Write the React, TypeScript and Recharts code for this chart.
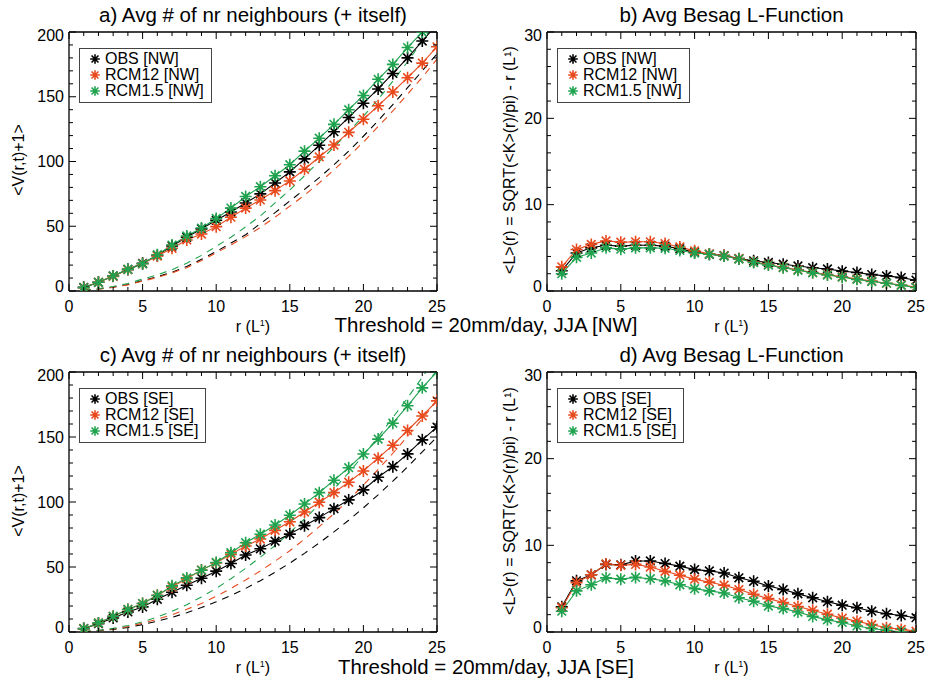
import React from 'react';
import { LineChart, Line, XAxis, YAxis } from 'recharts';

// r (in L') sample points
const rValues = [1, 2, 3, 4, 5, 6, 7, 8, 9, 10, 11, 12, 13, 14, 15, 16, 17, 18, 19, 20, 21, 22, 23, 24, 25];

// a) <V(r,t)+1>, NW
const obsNW = [2.8, 6.7, 11.6, 16.7, 21.4, 27.5, 34.7, 41.5, 48, 54.6, 61, 68, 75, 83.4, 92, 102, 112.5, 123, 134, 145, 156, 168, 180, 193, 206];
const rcm12NW = [2.5, 6.7, 11.3, 16.5, 21, 27, 33, 39.4, 44, 49.7, 57, 64, 70.3, 77.5, 85, 94, 103.5, 112.7, 122.5, 132.6, 143, 153.7, 164.7, 176, 188.6];
const rcm15NW = [2.5, 6.7, 11.6, 16.7, 21, 28, 35.5, 42.5, 48.6, 56, 64, 73, 80.5, 89, 97.5, 108, 118, 128.7, 140, 151, 163.5, 175, 188, 200, 212];
const obsNWDash = [0.5, 1.5, 3, 5, 8, 11, 14.5, 19, 24.5, 30.5, 37, 43.5, 52, 60.5, 69.5, 78.5, 87.5, 97.5, 108, 119.5, 131.5, 144, 157, 170, 183];
const rcm12NWDash = [0.5, 1.4, 2.8, 4.7, 7.6, 10.5, 14, 18, 23.5, 29.5, 35.5, 42, 49, 57, 65.5, 74, 83.5, 93.5, 104, 115, 127, 139, 152, 165, 179];
const rcm15NWDash = [0.6, 1.8, 3.5, 5.8, 9.2, 12.5, 16.5, 21.5, 27.5, 34.5, 41.5, 49.5, 58, 68, 78, 89, 100, 111, 123, 135, 148, 162, 177, 193, 210];

// c) <V(r,t)+1>, SE
const obsSE = [2.6, 6.4, 10.8, 15.4, 19.3, 25.2, 30.6, 36, 41.4, 46.8, 52.7, 59.2, 64, 69.9, 75.3, 81.8, 88, 94.9, 101.6, 109.3, 119, 127.2, 137, 147.8, 157.6];
const rcm12SE = [2.5, 7, 12.1, 17.3, 21.9, 28.3, 34.7, 40.9, 47.6, 53.2, 59.7, 66.1, 71.5, 78.2, 84.8, 92.3, 99.8, 107.2, 115.2, 123.9, 133.7, 143.7, 155, 166.2, 177.8];
const rcm15SE = [2.5, 7, 12.1, 17.3, 21.9, 28.1, 35.5, 41.6, 47.6, 53.5, 61, 68.7, 75.2, 82.3, 89.8, 98.5, 107.2, 116.7, 126.4, 136.9, 148.4, 160.6, 174, 187.8, 200.3];
const obsSEDash = [0.3, 1, 2, 3.5, 5.7, 8.3, 11.3, 14.8, 18.8, 23.2, 28, 33.5, 39.5, 46, 53, 60.5, 68.5, 77, 86, 95.5, 105.5, 116, 127, 138.5, 150];
const rcm12SEDash = [0.4, 1.2, 2.4, 4.2, 6.8, 9.8, 13.3, 17.5, 22, 27.5, 33.5, 40, 47, 54.5, 62.5, 71.5, 81, 91, 101.5, 113, 125, 137.5, 150.5, 164, 178];
const rcm15SEDash = [0.4, 1.3, 2.8, 5, 7.8, 11.5, 16, 21, 27, 33.5, 41, 49, 57.5, 66.5, 76.5, 87, 98, 110, 122.5, 136, 150, 165, 180, 196, 212];

// b) Besag L, NW
const obsLNW = [2.35, 4.4, 5.0, 5.3, 5.2, 5.3, 5.3, 5.2, 4.9, 4.5, 4.25, 4.1, 3.75, 3.5, 3.3, 3.1, 2.9, 2.7, 2.55, 2.3, 2.15, 1.9, 1.75, 1.55, 1.25];
const rcm12LNW = [2.8, 4.8, 5.4, 5.8, 5.65, 5.7, 5.7, 5.5, 5.1, 4.65, 4.3, 4.1, 3.75, 3.35, 3.05, 2.75, 2.45, 2.15, 1.9, 1.65, 1.4, 1.15, 0.9, 0.7, 0.45];
const rcm15LNW = [2.0, 3.9, 4.4, 5.0, 4.85, 5.0, 5.0, 4.95, 4.7, 4.4, 4.25, 4.05, 3.7, 3.3, 3.0, 2.7, 2.4, 2.1, 1.85, 1.6, 1.35, 1.1, 0.9, 0.65, 0.4];

// d) Besag L, SE
const obsLSE = [2.9, 5.9, 6.6, 7.8, 7.75, 8.2, 8.2, 7.9, 7.6, 7.2, 7.05, 6.8, 6.25, 5.85, 5.3, 4.9, 4.4, 3.95, 3.5, 3.1, 2.8, 2.4, 2.1, 1.9, 1.65];
const rcm12LSE = [2.8, 5.7, 6.6, 7.85, 7.7, 7.8, 7.5, 7.0, 6.55, 6.1, 5.75, 5.4, 4.9, 4.35, 3.85, 3.4, 2.95, 2.5, 2.05, 1.6, 1.25, 0.85, 0.5, 0.3, 0.1];
const rcm15LSE = [2.4, 4.75, 5.45, 6.25, 6.1, 6.3, 6.15, 5.9, 5.45, 5.0, 4.75, 4.5, 3.95, 3.55, 3.0, 2.7, 2.3, 1.8, 1.4, 1.1, 0.7, 0.4, 0.2, 0.0, -0.2];

// ticks
const xTicks = [0, 1, 2, 3, 4, 5, 6, 7, 8, 9, 10, 11, 12, 13, 14, 15, 16, 17, 18, 19, 20, 21, 22, 23, 24, 25];
const vTicks = [0, 10, 20, 30, 40, 50, 60, 70, 80, 90, 100, 110, 120, 130, 140, 150, 160, 170, 180, 190, 200];
const lTicks = [0, 2, 4, 6, 8, 10, 12, 14, 16, 18, 20, 22, 24, 26, 28, 30];

const FONT = '"Liberation Sans", Arial, Helvetica, sans-serif';
const BLACK = '#000000';
const RED = '#e8491d';
const GREEN = '#1fa34f';
const AXIS = '#000000';

function Asterisk({ cx, cy, color, s = 6 }: { cx: number; cy: number; color: string; s?: number }) {
  const k = s * 0.72;
  const d = `M${cx - s},${cy}H${cx + s}M${cx},${cy - s}V${cy + s}M${cx - k},${cy - k}L${cx + k},${cy + k}M${cx - k},${cy + k}L${cx + k},${cy - k}`;
  return <path d={d} stroke={color} strokeWidth={1.6} fill="none" />;
}

const makeDot = (color: string) => (props: any) => {
  const { cx, cy, index } = props;
  if (cx == null || cy == null) return <g key={index} />;
  return <Asterisk key={index} cx={cx} cy={cy} color={color} />;
};

const tickLen = (major: boolean) => (major ? 7 : 4);

const bottomTick = (props: any) => {
  const { x, y, payload } = props;
  const major = payload.value % 5 === 0;
  return (
    <g>
      <line x1={x} x2={x} y1={y} y2={y - tickLen(major)} stroke={AXIS} />
      {major && (
        <text x={x} y={y + 21} textAnchor="middle" fontSize={16} fill="#000">
          {payload.value}
        </text>
      )}
    </g>
  );
};

const topTick = (props: any) => {
  const { x, y, payload } = props;
  const major = payload.value % 5 === 0;
  return <line x1={x} x2={x} y1={y} y2={y + tickLen(major)} stroke={AXIS} />;
};

const leftTick = (majorStep: number, max: number) => (props: any) => {
  const { x, y, payload } = props;
  const major = payload.value % majorStep === 0;
  const dy = payload.value === 0 ? -5 : payload.value === max ? 3 : 0;
  return (
    <g>
      <line x1={x} x2={x + tickLen(major)} y1={y} y2={y} stroke={AXIS} />
      {major && (
        <text x={x - 5} y={y + dy + 5.5} textAnchor="end" fontSize={16} fill="#000">
          {payload.value}
        </text>
      )}
    </g>
  );
};

const rightTick = (majorStep: number) => (props: any) => {
  const { x, y, payload } = props;
  const major = payload.value % majorStep === 0;
  return <line x1={x} x2={x - tickLen(major)} y1={y} y2={y} stroke={AXIS} />;
};

type Series = { key: string; color: string; values: number[]; dashed?: boolean };

interface PanelProps {
  plot: [number, number, number, number];
  series: Series[];
  yTicks: number[];
  yMajor: number;
  title: string;
  yLabel: string;
  yLabelX: number;
  legend: string[];
}

function Panel({ plot, series, yTicks, yMajor, title, yLabel, yLabelX, legend }: PanelProps) {
  const [l, t, r, b] = plot;
  const w = 460;
  const h = 342;
  const margin = { left: 9, top: 31, right: w - (r - l) - 69 - 1, bottom: h - (b - t) - 32 - 30 };
  const yMax = yTicks[yTicks.length - 1];
  const data = rValues.map((rv, i) => {
    const row: any = { r: rv };
    series.forEach((s) => (row[s.key] = s.values[i]));
    return row;
  });
  const cx = (l + r) / 2;
  const solid = series.filter((s) => !s.dashed);

  return (
    <>
      <div style={{ position: 'absolute', left: l - 69, top: t - 32 }}>
        <LineChart width={w} height={h} data={data} margin={margin}>
          <XAxis
            dataKey="r"
            type="number"
            domain={[0, 25]}
            ticks={xTicks}
            interval={0}
            allowDataOverflow
            height={30}
            tickSize={0}
            tickMargin={0}
            tickLine={false}
            axisLine={{ stroke: AXIS, strokeWidth: 1.3 }}
            tick={bottomTick}
          />
          <XAxis
            xAxisId="top"
            orientation="top"
            dataKey="r"
            type="number"
            domain={[0, 25]}
            ticks={xTicks}
            interval={0}
            allowDataOverflow
            height={1}
            tickSize={0}
            tickMargin={0}
            tickLine={false}
            axisLine={{ stroke: AXIS, strokeWidth: 1.3 }}
            tick={topTick}
          />
          <YAxis
            type="number"
            domain={[0, yMax]}
            ticks={yTicks}
            interval={0}
            allowDataOverflow
            width={60}
            tickSize={0}
            tickMargin={0}
            tickLine={false}
            axisLine={{ stroke: AXIS, strokeWidth: 1.3 }}
            tick={leftTick(yMajor, yMax)}
          />
          <YAxis
            yAxisId="right"
            orientation="right"
            type="number"
            domain={[0, yMax]}
            ticks={yTicks}
            interval={0}
            allowDataOverflow
            width={1}
            tickSize={0}
            tickMargin={0}
            tickLine={false}
            axisLine={{ stroke: AXIS, strokeWidth: 1.3 }}
            tick={rightTick(yMajor)}
          />
          {series.map((s) => (
            <Line
              key={s.key}
              dataKey={s.key}
              stroke={s.color}
              strokeWidth={1.1}
              strokeDasharray={s.dashed ? '7 6' : undefined}
              dot={s.dashed ? false : makeDot(s.color)}
              activeDot={false}
              type="linear"
              isAnimationActive={false}
            />
          ))}
        </LineChart>
      </div>
      <div
        style={{
          position: 'absolute',
          left: l - 20,
          width: r - l + 40,
          top: t - 26.7,
          fontSize: 20.5,
          lineHeight: '20.5px',
          textAlign: 'center',
          whiteSpace: 'nowrap',
        }}
      >
        {title}
      </div>
      <div
        style={{
          position: 'absolute',
          left: cx - 60,
          width: 120,
          top: b + 23.5,
          fontSize: 16,
          lineHeight: '16px',
          textAlign: 'center',
          whiteSpace: 'nowrap',
        }}
      >
        r (L<span style={{ fontSize: 9, verticalAlign: 6 }}>1</span>)
      </div>
      <div
        style={{
          position: 'absolute',
          left: yLabelX - 150,
          top: (t + b) / 2 - 8 - 1.5,
          width: 300,
          fontSize: 16,
          lineHeight: '16px',
          textAlign: 'center',
          whiteSpace: 'nowrap',
          transform: 'rotate(-90deg)',
        }}
      >
        {yLabel}
      </div>
      <div
        style={{
          position: 'absolute',
          left: l + 10,
          top: t + 16,
          border: '1.5px solid #444',
          padding: '2px 7px 3px 9px',
          background: '#fff',
          fontSize: 16,
        }}
      >
        {solid.map((s, i) => (
          <div key={s.key} style={{ display: 'flex', alignItems: 'center', height: 16 }}>
            <svg width={14} height={16} style={{ marginRight: 2 }}>
              <Asterisk cx={6} cy={8} color={s.color} s={4.8} />
            </svg>
            <span style={{ lineHeight: '16px', whiteSpace: 'nowrap' }}>{legend[i]}</span>
          </div>
        ))}
      </div>
    </>
  );
}

export default function App() {
  const sNW: Series[] = [
    { key: 'obsD', color: BLACK, values: obsNWDash, dashed: true },
    { key: 'rcm12D', color: RED, values: rcm12NWDash, dashed: true },
    { key: 'rcm15D', color: GREEN, values: rcm15NWDash, dashed: true },
    { key: 'obs', color: BLACK, values: obsNW },
    { key: 'rcm12', color: RED, values: rcm12NW },
    { key: 'rcm15', color: GREEN, values: rcm15NW },
  ];
  const sSE: Series[] = [
    { key: 'obsD', color: BLACK, values: obsSEDash, dashed: true },
    { key: 'rcm12D', color: RED, values: rcm12SEDash, dashed: true },
    { key: 'rcm15D', color: GREEN, values: rcm15SEDash, dashed: true },
    { key: 'obs', color: BLACK, values: obsSE },
    { key: 'rcm12', color: RED, values: rcm12SE },
    { key: 'rcm15', color: GREEN, values: rcm15SE },
  ];
  const lNW: Series[] = [
    { key: 'obs', color: BLACK, values: obsLNW },
    { key: 'rcm12', color: RED, values: rcm12LNW },
    { key: 'rcm15', color: GREEN, values: rcm15LNW },
  ];
  const lSE: Series[] = [
    { key: 'obs', color: BLACK, values: obsLSE },
    { key: 'rcm12', color: RED, values: rcm12LSE },
    { key: 'rcm15', color: GREEN, values: rcm15LSE },
  ];
  const vLabel = '<V(r,t)+1>';
  const lLabel = '<L>(r) = SQRT(<K>(r)/pi) - r (L\u00b9)';

  return (
    <div
      style={{
        position: 'absolute',
        left: 0,
        top: 0,
        width: 925,
        height: 682,
        background: '#fff',
        fontFamily: FONT,
        color: '#000',
      }}
    >
      <Panel plot={[69, 32, 437, 291]} series={sNW} yTicks={vTicks} yMajor={50}
        title="a) Avg # of nr neighbours (+ itself)" yLabel={vLabel} yLabelX={18.5}
        legend={['OBS [NW]', 'RCM12 [NW]', 'RCM1.5 [NW]']} />
      <Panel plot={[547, 32, 916, 291]} series={lNW} yTicks={lTicks} yMajor={10}
        title="b) Avg Besag L-Function" yLabel={lLabel} yLabelX={509.5}
        legend={['OBS [NW]', 'RCM12 [NW]', 'RCM1.5 [NW]']} />
      <Panel plot={[69, 372, 437, 632]} series={sSE} yTicks={vTicks} yMajor={50}
        title="c) Avg # of nr neighbours (+ itself)" yLabel={vLabel} yLabelX={18.5}
        legend={['OBS [SE]', 'RCM12 [SE]', 'RCM1.5 [SE]']} />
      <Panel plot={[547, 372, 916, 632]} series={lSE} yTicks={lTicks} yMajor={10}
        title="d) Avg Besag L-Function" yLabel={lLabel} yLabelX={509.5}
        legend={['OBS [SE]', 'RCM12 [SE]', 'RCM1.5 [SE]']} />
      <div style={{ position: 'absolute', left: 286, width: 400, top: 314.5, fontSize: 20.4, lineHeight: '20.4px', textAlign: 'center', whiteSpace: 'nowrap' }}>
        Threshold = 20mm/day, JJA [NW]
      </div>
      <div style={{ position: 'absolute', left: 286, width: 400, top: 656.5, fontSize: 20.4, lineHeight: '20.4px', textAlign: 'center', whiteSpace: 'nowrap' }}>
        Threshold = 20mm/day, JJA [SE]
      </div>
    </div>
  );
}
